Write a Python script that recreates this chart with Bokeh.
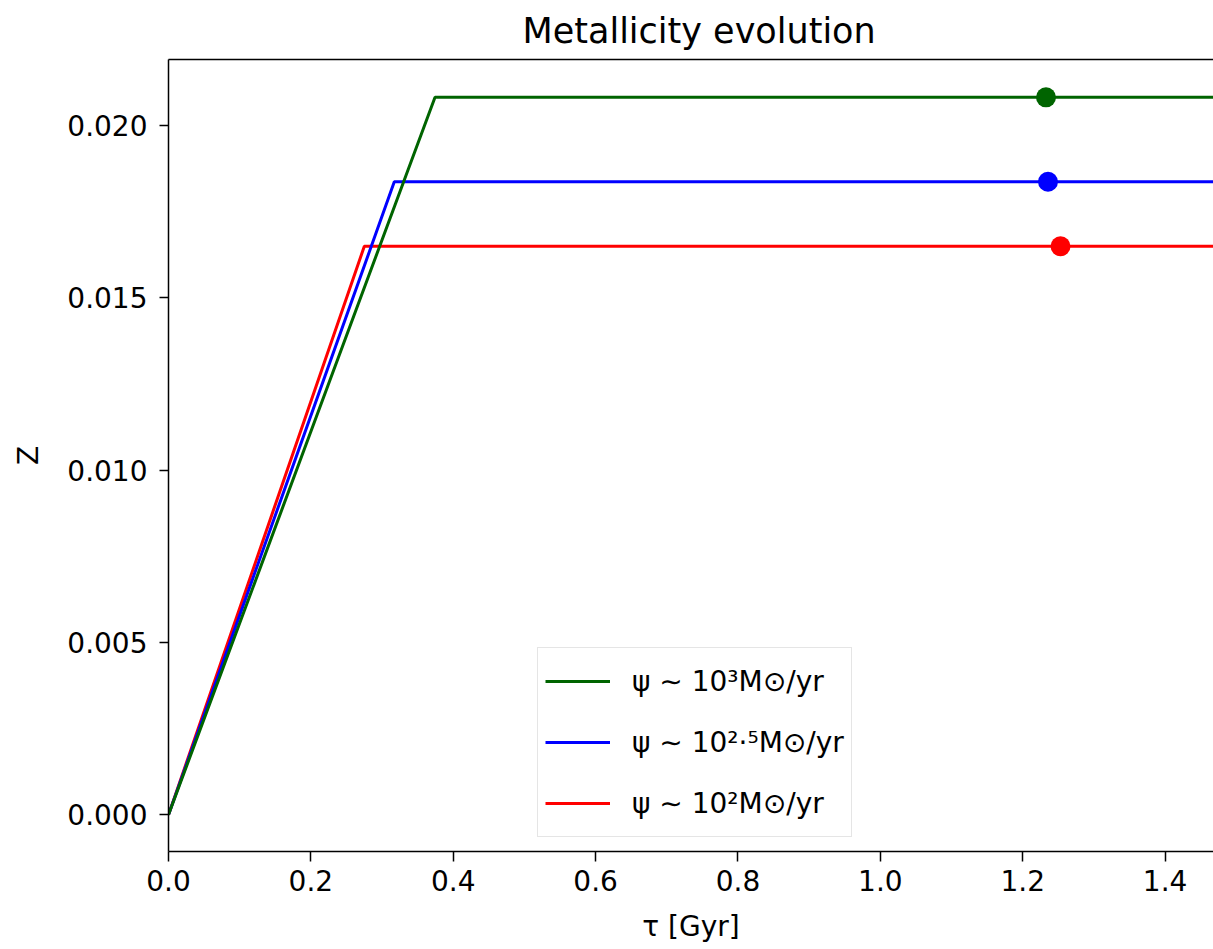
from bokeh.plotting import figure
from bokeh.models import (Legend, LegendItem, LinearAxis, Range1d, FixedTicker,
                          PrintfTickFormatter)
from bokeh.embed import file_html
from bokeh.resources import INLINE

# ---- data ----
series_labels = ["ψ ∼ 10³M⊙/yr", "ψ ∼ 10²·⁵M⊙/yr", "ψ ∼ 10²M⊙/yr"]
series_colors = ["#006400", "#0000ff", "#ff0000"]

tau_green = [0.0, 0.3744, 1.6]
Z_green = [0.0, 0.02081, 0.02081]
tau_blue = [0.0, 0.3172, 1.6]
Z_blue = [0.0, 0.01836, 0.01836]
tau_red = [0.0, 0.2751, 1.6]
Z_red = [0.0, 0.01649, 0.01649]

dot_tau = [1.2327, 1.2355, 1.2531]
dot_Z = [0.02081, 0.01836, 0.01649]

x_ticks = [0.0, 0.2, 0.4, 0.6, 0.8, 1.0, 1.2, 1.4]
y_ticks = [0.000, 0.005, 0.010, 0.015, 0.020]

FONT = "DejaVu Sans"

p = figure(width=1213, height=949,
           x_range=Range1d(0, 1.468), y_range=Range1d(-0.001065, 0.021907),
           output_backend="svg", toolbar_location=None,
           min_border_left=168, min_border_right=0,
           min_border_top=59, min_border_bottom=98)
p.outline_line_color = None
p.xgrid.visible = False
p.ygrid.visible = False
p.background_fill_color = "white"
p.border_fill_color = "white"

p.title.text = "Metallicity evolution"
p.title.align = "left"
p.title.offset = 354
p.title.standoff = 17
p.title.text_font = FONT
p.title.text_font_size = "35px"
p.title.text_font_style = "normal"
p.title.text_color = "black"

for ax in (p.xaxis[0], p.yaxis[0]):
    ax.axis_line_color = "black"
    ax.axis_line_width = 1.5
    ax.major_tick_line_color = "black"
    ax.major_tick_line_width = 1.5
    ax.major_tick_in = 0
    ax.minor_tick_line_color = None
    ax.major_label_text_font = FONT
    ax.major_label_text_font_size = "28px"
    ax.major_label_text_color = "black"
    ax.axis_label_text_font = FONT
    ax.axis_label_text_font_size = "28px"
    ax.axis_label_text_font_style = "normal"
    ax.axis_label_text_color = "black"

p.xaxis[0].ticker = FixedTicker(ticks=x_ticks)
p.xaxis[0].formatter = PrintfTickFormatter(format="%.1f")
p.xaxis[0].axis_label = "τ [Gyr]"
p.xaxis[0].major_tick_out = 10
p.xaxis[0].major_label_standoff = 8
p.xaxis[0].axis_label_standoff = 16

p.yaxis[0].ticker = FixedTicker(ticks=y_ticks)
p.yaxis[0].formatter = PrintfTickFormatter(format="%.3f")
p.yaxis[0].axis_label = "Z"
p.yaxis[0].major_tick_out = 9
p.yaxis[0].major_label_standoff = 12
p.yaxis[0].axis_label_standoff = 19

top = LinearAxis(ticker=FixedTicker(ticks=[]), axis_line_color="black",
                 axis_line_width=1.5, major_tick_line_color=None,
                 minor_tick_line_color=None, major_label_text_font_size="0px",
                 major_label_standoff=0, axis_label_standoff=0)
p.add_layout(top, "above")

r_red = p.line(tau_red, Z_red, line_color=series_colors[2], line_width=3)
r_blue = p.line(tau_blue, Z_blue, line_color=series_colors[1], line_width=3)
r_green = p.line(tau_green, Z_green, line_color=series_colors[0], line_width=3)

p.scatter(dot_tau, dot_Z, size=20, color=series_colors, line_color=None)

legend = Legend(items=[LegendItem(label=series_labels[0], renderers=[r_green]),
                       LegendItem(label=series_labels[1], renderers=[r_blue]),
                       LegendItem(label=series_labels[2], renderers=[r_red])],
                location=(369, 14), margin=0, padding=7, spacing=9,
                glyph_width=65, glyph_height=52, label_height=52,
                label_standoff=22,
                label_text_font=FONT, label_text_font_size="28px",
                label_text_color="black",
                border_line_color="#cccccc", border_line_width=1.5,
                background_fill_color="white", background_fill_alpha=1.0)
p.add_layout(legend, "center")

open("out.html", "w").write(file_html(p, INLINE))
